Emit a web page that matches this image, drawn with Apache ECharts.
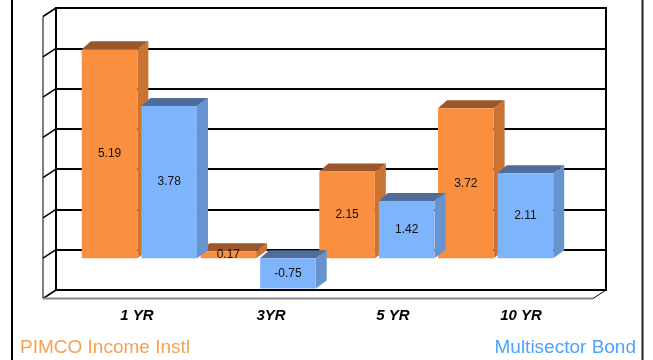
<!DOCTYPE html>
<html>
<head>
<meta charset="utf-8">
<script src="https://cdn.jsdelivr.net/npm/echarts@6/dist/echarts.min.js"></script>
<style>
  html, body { margin: 0; padding: 0; background: #fff; }
  #chart { width: 653px; height: 360px; }
</style>
</head>
<body>
<div id="chart"></div>
<script>
// Trailing returns (%), by period
const periods = ['1 YR', '3YR', '5 YR', '10 YR'];
const pimcoIncome = [5.19, 0.17, 2.15, 3.72];
const multisector = [3.78, -0.75, 1.42, 2.11];
const valueTicks = [-1, 0, 1, 2, 3, 4, 5, 6];

const FONT = 'Arial, "Liberation Sans", Helvetica, sans-serif';
const BAR_DX = 11, BAR_DY = 8;     // bar depth
const WALL_DX = 13, WALL_DY = 8.5; // wall depth

const orange = { front: '#FB8F40', side: '#C97334', top: '#9B5729' };
const blue = { front: '#7EB4FC', side: '#6793CE', top: '#4E6D9A' };

// 3D column: front face, side face, top face and a centred value label
function makeBar(side, colors) {
  return function (params, api) {
    const ci = api.value(0), v = api.value(1);
    const band = api.size([1, 0])[0];
    const w = band * 0.468, gap = band * 0.034;
    const base = api.coord([ci, 0]);
    const x0 = base[0] + (side === 0 ? -gap / 2 - w : gap / 2);
    const x1 = x0 + w;
    const yv = api.coord([ci, v])[1];
    const yTop = Math.min(yv, base[1]), yBot = Math.max(yv, base[1]);
    return {
      type: 'group',
      children: [
        { type: 'polygon', shape: { points: [[x1, yTop], [x1 + BAR_DX, yTop - BAR_DY], [x1 + BAR_DX, yBot - BAR_DY], [x1, yBot]] },
          style: { fill: colors.side } },
        { type: 'polygon', shape: { points: [[x0, yTop], [x0 + BAR_DX - 2, yTop - BAR_DY], [x1 + BAR_DX, yTop - BAR_DY], [x1, yTop]] },
          style: { fill: colors.top } },
        { type: 'rect', shape: { x: x0, y: yTop, width: w, height: yBot - yTop },
          style: { fill: colors.front } },
        { type: 'text', x: x0 + w / 2, y: (yTop + yBot) / 2,
          style: { text: v.toFixed(2), fill: '#111', font: '12px ' + FONT, align: 'center', verticalAlign: 'middle' } }
      ]
    };
  };
}

// Left side wall ticks, side-wall edge and floor outline
function renderWall(params, api) {
  const cs = params.coordSys;
  const v = api.value(0);
  const y = api.coord([0, v])[1];
  const children = [
    { type: 'line', shape: { x1: cs.x - WALL_DX, y1: y + WALL_DY, x2: cs.x, y2: y }, style: { stroke: '#000', lineWidth: 1.5 } }
  ];
  if (params.dataIndex === 0) {
    const yTopBack = api.coord([0, valueTicks[valueTicks.length - 1]])[1];
    const yFloor = api.coord([0, valueTicks[0]])[1];
    const xr = cs.x + cs.width;
    children.push(
      { type: 'line', shape: { x1: cs.x - WALL_DX, y1: yTopBack + WALL_DY, x2: cs.x - WALL_DX, y2: yFloor + WALL_DY }, style: { stroke: '#000', lineWidth: 1 } },
      { type: 'line', shape: { x1: cs.x - WALL_DX, y1: yFloor + WALL_DY, x2: xr - WALL_DX, y2: yFloor + WALL_DY }, style: { stroke: '#8a8a8a', lineWidth: 2 } },
      { type: 'line', shape: { x1: xr - WALL_DX, y1: yFloor + WALL_DY, x2: xr, y2: yFloor }, style: { stroke: '#000', lineWidth: 1 } }
    );
  }
  return { type: 'group', children };
}

const chart = echarts.init(document.getElementById('chart'), null, { renderer: 'canvas' });

chart.setOption({
  backgroundColor: '#fff',
  animation: false,
  textStyle: { fontFamily: FONT },
  title: [
    { text: 'PIMCO Income Instl', left: 15, top: 333,
      textStyle: { color: '#F7A04E', fontSize: 19, fontWeight: 'normal', fontFamily: FONT } },
    { text: 'Multisector Bond', right: 12, top: 333,
      textStyle: { color: '#4DA3FF', fontSize: 19, fontWeight: 'normal', fontFamily: FONT } }
  ],
  grid: [
    { left: 80, right: 98, top: 16.5, bottom: 61.5 },                                   // bars (front plane)
    { left: 56, right: 47, top: 8, bottom: 70, show: true, borderColor: '#000', borderWidth: 2 }, // back wall
    { left: 73, right: 68, top: 16.5, bottom: 61.5 }                                    // period labels
  ],
  xAxis: [
    { type: 'category', gridIndex: 0, data: periods, show: false },
    { type: 'value', gridIndex: 1, min: 0, max: 1, show: false },
    { type: 'category', gridIndex: 2,
      data: periods.map((p, i) => i === 1 ? { value: p, textStyle: { padding: [0, 0, 0, 12] } } : p),
      axisLine: { show: false }, axisTick: { show: false },
      axisLabel: { color: '#000', fontSize: 15, fontWeight: 'bold', fontStyle: 'italic', margin: 10, fontFamily: FONT } }
  ],
  yAxis: [
    { type: 'value', gridIndex: 0, min: -1, max: 6, interval: 1, show: false },
    { type: 'value', gridIndex: 1, min: -1, max: 6, interval: 1,
      axisLabel: { show: false }, axisTick: { show: false }, axisLine: { show: false },
      splitLine: { show: true, lineStyle: { color: '#000', width: 2 } } },
    { type: 'value', gridIndex: 2, min: -1, max: 6, show: false }
  ],
  graphic: [
    { type: 'line', shape: { x1: 12, y1: 0, x2: 12, y2: 360 }, style: { stroke: '#000', lineWidth: 2 } },
    { type: 'line', shape: { x1: 642.5, y1: 0, x2: 642.5, y2: 360 }, style: { stroke: '#222', lineWidth: 2 } }
  ],
  series: [
    { type: 'custom', name: 'wall', xAxisIndex: 1, yAxisIndex: 1,
      data: valueTicks.map(v => [v]), encode: { y: 0 }, renderItem: renderWall, z: 1, silent: true },
    { type: 'custom', name: 'PIMCO Income Instl', xAxisIndex: 0, yAxisIndex: 0,
      data: pimcoIncome.map((v, i) => [i, v]), encode: { x: 0, y: 1 }, renderItem: makeBar(0, orange), z: 3 },
    { type: 'custom', name: 'Multisector Bond', xAxisIndex: 0, yAxisIndex: 0,
      data: multisector.map((v, i) => [i, v]), encode: { x: 0, y: 1 }, renderItem: makeBar(1, blue), z: 4 }
  ]
});
</script>
</body>
</html>
